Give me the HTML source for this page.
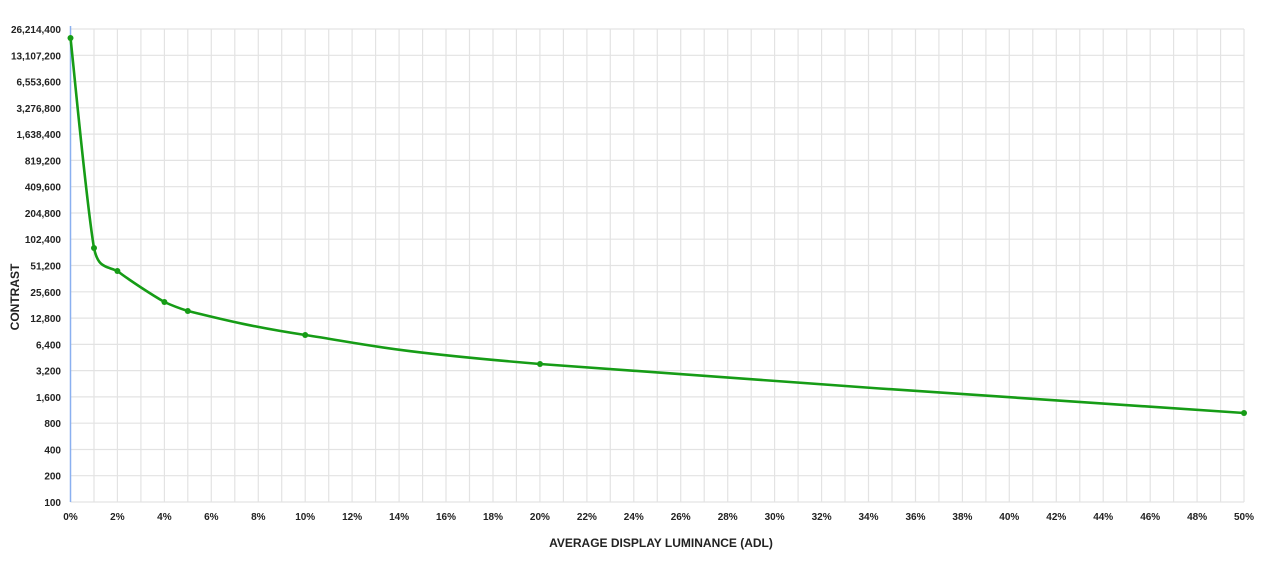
<!DOCTYPE html>
<html><head><meta charset="utf-8"><style>
body{margin:0;background:#fff;}
svg text{font-family:"Liberation Sans",sans-serif;font-weight:bold;fill:#222;}
</style></head><body>
<svg width="1280" height="566" xmlns="http://www.w3.org/2000/svg">
<g stroke="#e3e3e3" stroke-width="1.2">
<!-- vertical grid -->
<g id="vg"></g>
</g>
<g stroke="#e3e3e3" stroke-width="1.2">
<line x1="70.5" x2="1244" y1="29" y2="29"/><line x1="70.5" x2="1244" y1="55.3" y2="55.3"/><line x1="70.5" x2="1244" y1="81.6" y2="81.6"/><line x1="70.5" x2="1244" y1="107.8" y2="107.8"/><line x1="70.5" x2="1244" y1="134.1" y2="134.1"/><line x1="70.5" x2="1244" y1="160.4" y2="160.4"/><line x1="70.5" x2="1244" y1="186.7" y2="186.7"/><line x1="70.5" x2="1244" y1="213" y2="213"/><line x1="70.5" x2="1244" y1="239.2" y2="239.2"/><line x1="70.5" x2="1244" y1="265.5" y2="265.5"/><line x1="70.5" x2="1244" y1="291.8" y2="291.8"/><line x1="70.5" x2="1244" y1="318.1" y2="318.1"/><line x1="70.5" x2="1244" y1="344.4" y2="344.4"/><line x1="70.5" x2="1244" y1="370.6" y2="370.6"/><line x1="70.5" x2="1244" y1="396.9" y2="396.9"/><line x1="70.5" x2="1244" y1="423.2" y2="423.2"/><line x1="70.5" x2="1244" y1="449.5" y2="449.5"/><line x1="70.5" x2="1244" y1="475.7" y2="475.7"/><line x1="70.5" x2="1244" y1="502" y2="502"/>
</g>
<g stroke="#e3e3e3" stroke-width="1.2" id="vlines">
<line x1="94" x2="94" y1="29" y2="502"/><line x1="117.4" x2="117.4" y1="29" y2="502"/><line x1="140.9" x2="140.9" y1="29" y2="502"/><line x1="164.4" x2="164.4" y1="29" y2="502"/><line x1="187.8" x2="187.8" y1="29" y2="502"/><line x1="211.3" x2="211.3" y1="29" y2="502"/><line x1="234.8" x2="234.8" y1="29" y2="502"/><line x1="258.3" x2="258.3" y1="29" y2="502"/><line x1="281.7" x2="281.7" y1="29" y2="502"/><line x1="305.2" x2="305.2" y1="29" y2="502"/><line x1="328.7" x2="328.7" y1="29" y2="502"/><line x1="352.1" x2="352.1" y1="29" y2="502"/><line x1="375.6" x2="375.6" y1="29" y2="502"/><line x1="399.1" x2="399.1" y1="29" y2="502"/><line x1="422.6" x2="422.6" y1="29" y2="502"/><line x1="446" x2="446" y1="29" y2="502"/><line x1="469.5" x2="469.5" y1="29" y2="502"/><line x1="493" x2="493" y1="29" y2="502"/><line x1="516.4" x2="516.4" y1="29" y2="502"/><line x1="539.9" x2="539.9" y1="29" y2="502"/><line x1="563.4" x2="563.4" y1="29" y2="502"/><line x1="586.9" x2="586.9" y1="29" y2="502"/><line x1="610.3" x2="610.3" y1="29" y2="502"/><line x1="633.8" x2="633.8" y1="29" y2="502"/><line x1="657.3" x2="657.3" y1="29" y2="502"/><line x1="680.7" x2="680.7" y1="29" y2="502"/><line x1="704.2" x2="704.2" y1="29" y2="502"/><line x1="727.7" x2="727.7" y1="29" y2="502"/><line x1="751.2" x2="751.2" y1="29" y2="502"/><line x1="774.6" x2="774.6" y1="29" y2="502"/><line x1="798.1" x2="798.1" y1="29" y2="502"/><line x1="821.6" x2="821.6" y1="29" y2="502"/><line x1="845" x2="845" y1="29" y2="502"/><line x1="868.5" x2="868.5" y1="29" y2="502"/><line x1="892" x2="892" y1="29" y2="502"/><line x1="915.5" x2="915.5" y1="29" y2="502"/><line x1="938.9" x2="938.9" y1="29" y2="502"/><line x1="962.4" x2="962.4" y1="29" y2="502"/><line x1="985.9" x2="985.9" y1="29" y2="502"/><line x1="1009.3" x2="1009.3" y1="29" y2="502"/><line x1="1032.8" x2="1032.8" y1="29" y2="502"/><line x1="1056.3" x2="1056.3" y1="29" y2="502"/><line x1="1079.8" x2="1079.8" y1="29" y2="502"/><line x1="1103.2" x2="1103.2" y1="29" y2="502"/><line x1="1126.7" x2="1126.7" y1="29" y2="502"/><line x1="1150.2" x2="1150.2" y1="29" y2="502"/><line x1="1173.6" x2="1173.6" y1="29" y2="502"/><line x1="1197.1" x2="1197.1" y1="29" y2="502"/><line x1="1220.6" x2="1220.6" y1="29" y2="502"/><line x1="1244" x2="1244" y1="29" y2="502"/>
</g>
<line x1="70.5" x2="70.5" y1="26" y2="502" stroke="#8ab0f0" stroke-width="1.5"/>
<g font-size="10" text-anchor="end">
<text x="61" y="33">26,214,400</text><text x="61" y="59.3">13,107,200</text><text x="61" y="85.6">6,553,600</text><text x="61" y="111.8">3,276,800</text><text x="61" y="138.1">1,638,400</text><text x="61" y="164.4">819,200</text><text x="61" y="190.7">409,600</text><text x="61" y="217">204,800</text><text x="61" y="243.2">102,400</text><text x="61" y="269.5">51,200</text><text x="61" y="295.8">25,600</text><text x="61" y="322.1">12,800</text><text x="61" y="348.4">6,400</text><text x="61" y="374.6">3,200</text><text x="61" y="400.9">1,600</text><text x="61" y="427.2">800</text><text x="61" y="453.5">400</text><text x="61" y="479.7">200</text><text x="61" y="506">100</text>
</g>
<g font-size="10" text-anchor="middle">
<text x="70.5" y="520">0%</text><text x="117.4" y="520">2%</text><text x="164.4" y="520">4%</text><text x="211.3" y="520">6%</text><text x="258.3" y="520">8%</text><text x="305.2" y="520">10%</text><text x="352.1" y="520">12%</text><text x="399.1" y="520">14%</text><text x="446" y="520">16%</text><text x="493" y="520">18%</text><text x="539.9" y="520">20%</text><text x="586.9" y="520">22%</text><text x="633.8" y="520">24%</text><text x="680.7" y="520">26%</text><text x="727.7" y="520">28%</text><text x="774.6" y="520">30%</text><text x="821.6" y="520">32%</text><text x="868.5" y="520">34%</text><text x="915.5" y="520">36%</text><text x="962.4" y="520">38%</text><text x="1009.3" y="520">40%</text><text x="1056.3" y="520">42%</text><text x="1103.2" y="520">44%</text><text x="1150.2" y="520">46%</text><text x="1197.1" y="520">48%</text><text x="1244" y="520">50%</text>
</g>
<text x="661" y="547" font-size="12" text-anchor="middle">AVERAGE DISPLAY LUMINANCE (ADL)</text>
<text transform="translate(19,297) rotate(-90)" font-size="12" text-anchor="middle">CONTRAST</text>
<path d="M70.5,38 C74.4,73 86,200 94,248 C98,268 106,266 117.4,271 C129,280 152.7,295.3 164.4,302 C172,305.5 180,308.5 187.8,311 C211.3,316.5 246.5,326.2 305.2,335 C363.9,343.8 383.5,351 540,364 C696.5,377 1126.7,404.8 1244,413" fill="none" stroke="#169c16" stroke-width="2.6"/>
<g fill="#169c16">
<circle cx="70.5" cy="38" r="3"/><circle cx="94" cy="248" r="3"/><circle cx="117.4" cy="271" r="3"/><circle cx="164.4" cy="302" r="3"/><circle cx="187.8" cy="311" r="3"/><circle cx="305.2" cy="335" r="3"/><circle cx="540" cy="364" r="3"/><circle cx="1244" cy="413" r="3"/>
</g>
</svg>
</body></html>
